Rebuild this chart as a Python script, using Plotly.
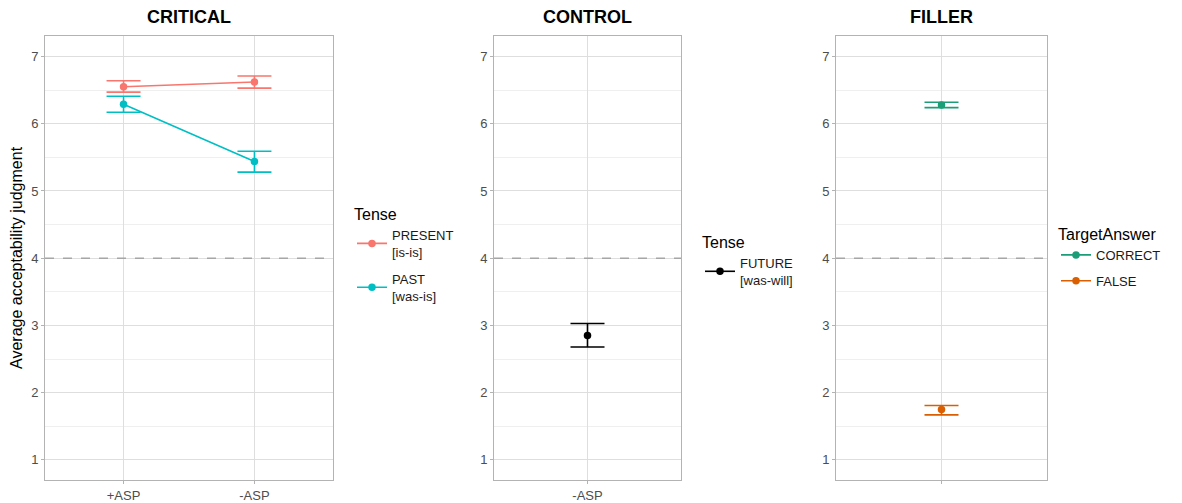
import plotly.graph_objects as go

# ---------------- data ----------------
crit_cats = ["+ASP", "-ASP"]
present_mean = [6.55, 6.62]
present_hi = [6.64, 6.71]
present_lo = [6.47, 6.53]
past_mean = [6.29, 5.44]
past_hi = [6.41, 5.59]
past_lo = [6.17, 5.28]

ctrl_cats = ["-ASP"]
future_mean = [2.85]
future_hi = [3.03]
future_lo = [2.68]

fill_cats = ["FILLER"]
fill_ticktext = [""]
correct_mean = [6.28]
correct_hi = [6.32]
correct_lo = [6.24]
false_mean = [1.75]
false_hi = [1.81]
false_lo = [1.67]

y_ticks = [1, 2, 3, 4, 5, 6, 7]
ref_line = 4
panel_titles = ["CRITICAL", "CONTROL", "FILLER"]

W, H = 1182, 503
FONT = "Liberation Sans, Arial, sans-serif"

fig = go.Figure()


def add_series(xax, yax, cats, mean, hi, lo, color, name, legend, group):
    fig.add_trace(go.Scatter(
        x=cats, y=mean, mode="lines+markers", name=name, legend=legend,
        legendgroup=group,
        xaxis=xax, yaxis=yax,
        line=dict(color=color, width=1.6),
        marker=dict(color=color, size=7.5),
        error_y=dict(type="data", symmetric=False,
                     array=[h - m for h, m in zip(hi, mean)],
                     arrayminus=[m - l for m, l in zip(mean, lo)],
                     color=color, thickness=1.6, width=17),
    ))


add_series("x", "y", crit_cats, present_mean, present_hi, present_lo, "#F8766D",
           "PRESENT<br>[is-is]", "legend", "g1")
add_series("x", "y", crit_cats, past_mean, past_hi, past_lo, "#00BFC4",
           "PAST<br>[was-is]", "legend", "g2")
add_series("x2", "y2", ctrl_cats, future_mean, future_hi, future_lo, "#000000",
           "FUTURE<br>[was-will]", "legend2", "g3")
add_series("x3", "y3", fill_cats, correct_mean, correct_hi, correct_lo, "#1B9E77",
           "CORRECT", "legend3", "g4")
add_series("x3", "y3", fill_cats, false_mean, false_hi, false_lo, "#D95F02",
           "FALSE", "legend3", "g5")

panels = [(45, 333, len(crit_cats)), (494, 681, len(ctrl_cats)), (836, 1047, len(fill_cats))]
ydom = [(H - 482) / H, (H - 36.5) / H]

axis_common = dict(showline=True, mirror=True, linecolor="#B3B3B3", linewidth=1,
                   showgrid=True, gridcolor="#DEDEDE", gridwidth=1,
                   ticks="outside", ticklen=3, tickcolor="#B3B3B3",
                   tickfont=dict(family=FONT, size=13, color="#4D4D4D"),
                   zeroline=False)

for i, (x0, x1, n) in enumerate(panels):
    sfx = "" if i == 0 else str(i + 1)
    xa = dict(axis_common, domain=[x0 / W, x1 / W], anchor="y" + sfx,
              type="category", range=[-0.6, n - 1 + 0.6])
    if i == 2:
        xa.update(tickvals=fill_cats, ticktext=fill_ticktext)
    ya = dict(axis_common, domain=ydom, anchor="x" + sfx, range=[0.7, 7.3],
              tickvals=y_ticks,
              minor=dict(tickvals=[1.5, 2.5, 3.5, 4.5, 5.5, 6.5], showgrid=True,
                         gridcolor="#EFEFEF", gridwidth=1, ticks=""))
    fig.layout["xaxis" + sfx] = xa
    fig.layout["yaxis" + sfx] = ya
    fig.add_shape(type="line", xref="x" + sfx + " domain", yref="y" + sfx,
                  x0=0, x1=1, y0=ref_line, y1=ref_line,
                  line=dict(color="#A6A6A6", width=1.4, dash="dash"))
    fig.add_annotation(text="<b>" + panel_titles[i] + "</b>", xref="paper", yref="paper",
                       x=(x0 + x1) / 2 / W, y=1 - 17 / H, showarrow=False,
                       xanchor="center", yanchor="middle",
                       font=dict(family=FONT, size=18, color="#000000"))

fig.add_annotation(text="Average acceptability judgment", xref="paper", yref="paper",
                   x=17 / W, y=1 - 259 / H, textangle=-90, showarrow=False,
                   xanchor="center", yanchor="middle",
                   font=dict(family=FONT, size=16, color="#000000"))

leg_common = dict(xanchor="left", yanchor="top", bgcolor="rgba(0,0,0,0)",
                  font=dict(family=FONT, size=13, color="#1A1A1A"),
                  itemwidth=30)
fig.update_layout(
    width=W, height=H, margin=dict(l=0, r=0, t=0, b=0),
    plot_bgcolor="white", paper_bgcolor="white",
    showlegend=True,
    legend=dict(leg_common, x=352 / W, y=1 - 200 / H, tracegroupgap=7,
                title=dict(text="Tense", font=dict(family=FONT, size=16, color="#000"))),
    legend2=dict(leg_common, x=700 / W, y=1 - 228 / H,
                 title=dict(text="Tense", font=dict(family=FONT, size=16, color="#000"))),
    legend3=dict(leg_common, x=1056 / W, y=1 - 220 / H, tracegroupgap=6,
                 title=dict(text="TargetAnswer", font=dict(family=FONT, size=16, color="#000"))),
)

fig.write_html("out.html")
